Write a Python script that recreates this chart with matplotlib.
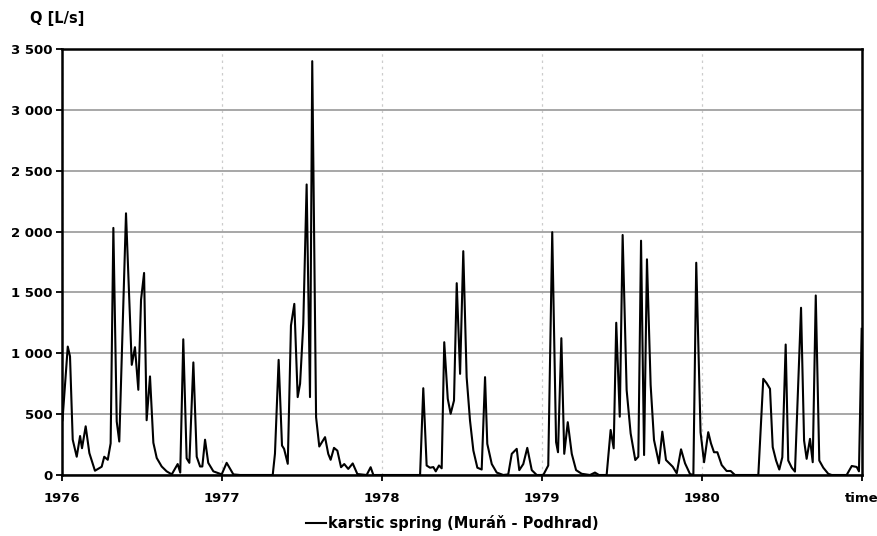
import matplotlib
matplotlib.use("Agg")
import matplotlib.pyplot as plt
from matplotlib.ticker import FixedLocator, FuncFormatter

# Discharge of the karstic spring Muráň - Podhrad, 1976-1980
# elapsed time in years since 1 Jan 1976
elapsed_years = [
    0.003, 0.036, 0.050, 0.067, 0.092, 0.113, 0.125, 0.148, 0.171, 0.206,
    0.225, 0.248, 0.264, 0.286, 0.304, 0.321, 0.342, 0.358, 0.400, 0.436,
    0.456, 0.477, 0.494, 0.513, 0.529, 0.550, 0.571, 0.592, 0.623, 0.654,
    0.686, 0.723, 0.739, 0.758, 0.779, 0.796, 0.821, 0.842, 0.863, 0.877,
    0.894, 0.914, 0.946, 0.998, 1.029, 1.071, 1.113, 1.317, 1.331, 1.354,
    1.375, 1.388, 1.411, 1.431, 1.452, 1.473, 1.488, 1.508, 1.529, 1.550,
    1.564, 1.588, 1.608, 1.625, 1.644, 1.664, 1.679, 1.700, 1.721, 1.744,
    1.764, 1.789, 1.817, 1.846, 1.904, 1.929, 1.946, 2.238, 2.258, 2.279,
    2.300, 2.321, 2.336, 2.356, 2.373, 2.389, 2.411, 2.429, 2.450, 2.467,
    2.488, 2.508, 2.529, 2.550, 2.571, 2.596, 2.623, 2.644, 2.658, 2.686,
    2.717, 2.758, 2.789, 2.811, 2.842, 2.858, 2.883, 2.908, 2.936, 2.967,
    3.008, 3.039, 3.064, 3.088, 3.100, 3.121, 3.139, 3.161, 3.186, 3.213,
    3.248, 3.300, 3.331, 3.356, 3.404, 3.429, 3.448, 3.464, 3.486, 3.504,
    3.529, 3.554, 3.583, 3.602, 3.619, 3.638, 3.656, 3.679, 3.700, 3.731,
    3.752, 3.775, 3.796, 3.817, 3.842, 3.869, 3.894, 3.925, 3.946, 3.964,
    3.991, 4.013, 4.039, 4.056, 4.075, 4.096, 4.123, 4.154, 4.179, 4.206,
    4.352, 4.383, 4.404, 4.425, 4.442, 4.463, 4.483, 4.502, 4.523, 4.539,
    4.561, 4.581, 4.598, 4.619, 4.638, 4.654, 4.675, 4.692, 4.711, 4.733,
    4.758, 4.789, 4.811, 4.904, 4.936, 4.967, 4.981, 4.998,
]

# discharge Q [L/s]
discharge = [
    450, 1055, 975, 290, 150, 320, 220, 400, 180, 35,
    50, 68, 150, 125, 260, 2030, 440, 275, 2150, 905,
    1050, 700, 1440, 1660, 450, 810, 265, 140, 70, 30,
    5, 90, 20, 1115, 137, 100, 925, 150, 70, 70,
    290, 100, 30, 5, 100, 5, 0, 0, 175, 946,
    242, 215, 92, 1228, 1406, 640, 750, 1242, 2387, 640,
    3400, 475, 234, 270, 311, 174, 125, 223, 200, 64,
    90, 50, 95, 8, 0, 64, 0, 0, 713, 78,
    60, 65, 30, 78, 55, 1091, 626, 503, 612, 1576,
    831, 1839, 804, 448, 201, 60, 45, 804, 256, 90,
    20, 0, 5, 174, 215, 40, 90, 223, 40, 0,
    0, 78, 1995, 270, 187, 1124, 174, 434, 174, 40,
    10, 0, 20, 0, 0, 370, 219, 1251, 479, 1972,
    698, 342, 123, 150, 1925, 164, 1772, 739, 288, 96,
    356, 123, 96, 68, 14, 211, 96, 8, 0, 1744,
    350, 105, 352, 260, 187, 187, 82, 33, 33, 0,
    0, 790, 754, 708, 229, 119, 45, 146, 1072, 119,
    60, 28, 639, 1374, 283, 133, 297, 105, 1475, 119,
    60, 10, 0, 0, 74, 66, 30, 1201,
]

start_year = 1976
year_ticks = [1976, 1977, 1978, 1979, 1980, 1981]
year_labels = ["1976", "1977", "1978", "1979", "1980", "time"]
q_ticks = [0, 500, 1000, 1500, 2000, 2500, 3000, 3500]

time = [start_year + t for t in elapsed_years]

plt.rcParams["font.family"] = ["DejaVu Sans"]
plt.rcParams["font.weight"] = "bold"

fig = plt.figure(figsize=(8.78, 5.36), dpi=100)
ax = fig.add_axes([62 / 878, 1 - 475 / 536, 800 / 878, 426 / 536])

ax.plot(time, discharge, color="black", linewidth=1.5,
        label="karstic spring (Muráň - Podhrad)", zorder=3)

ax.set_xlim(year_ticks[0], year_ticks[-1])
ax.set_ylim(q_ticks[0], q_ticks[-1])

ax.yaxis.set_major_locator(FixedLocator(q_ticks))
ax.yaxis.set_major_formatter(
    FuncFormatter(lambda v, p: f"{int(v):,}".replace(",", " ")))
ax.xaxis.set_major_locator(FixedLocator(year_ticks))
ax.set_xticklabels(year_labels)

# horizontal solid grid, vertical dotted grid
ax.grid(axis="y", color="#a0a0a0", linewidth=1.3, linestyle="-", zorder=1)
ax.grid(axis="x", color="#cccccc", linewidth=0.9, linestyle=(0, (2, 3)), zorder=1)

for side in ["left", "right", "top", "bottom"]:
    ax.spines[side].set_color("black")
    ax.spines[side].set_linewidth(1.8)

ax.tick_params(axis="both", which="major", length=4, width=1.3,
               direction="out", labelsize=9.5, colors="black", pad=3)
ax.tick_params(axis="x", pad=8)
for lbl in ax.get_xticklabels() + ax.get_yticklabels():
    lbl.set_fontweight("bold")

fig.text(30 / 878, 1 - 18 / 536, "Q [L/s]", fontsize=10.5, fontweight="bold",
         ha="left", va="center")

leg = fig.legend(loc="center", bbox_to_anchor=(452 / 878, 1 - 523 / 536),
                 frameon=False, handlelength=1.4, handletextpad=0.1,
                 prop={"weight": "bold", "size": 10.5})

fig.savefig("out.png", dpi=100)
